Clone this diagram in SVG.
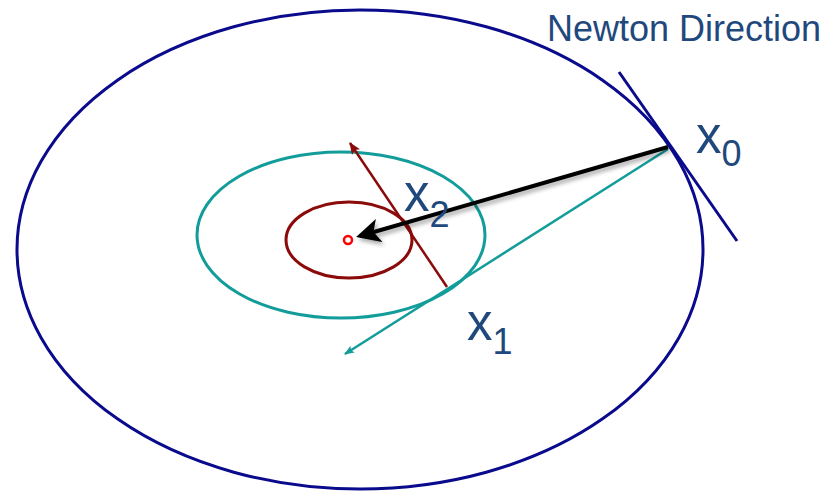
<svg xmlns="http://www.w3.org/2000/svg" width="840" height="492" viewBox="0 0 840 492">
<style>
.lbl{font-family:"Liberation Sans",Arial,sans-serif;fill:#1f497d}
</style>
<defs>
<marker id="ahBlack" markerWidth="6" markerHeight="6" refX="5" refY="3" orient="auto" markerUnits="strokeWidth">
<path d="M0,0 L6,3 L0,6 L1.5,3 Z" fill="#000"/>
</marker>
<marker id="ahTeal" markerWidth="10" markerHeight="8" refX="9" refY="4" orient="auto" markerUnits="userSpaceOnUse">
<path d="M0,0 L10,4 L0,8 L2,4 Z" fill="#129c9a"/>
</marker>
<marker id="ahRed" markerWidth="12" markerHeight="10" refX="11" refY="5" orient="auto" markerUnits="userSpaceOnUse">
<path d="M0,0 L12,5 L0,10 L2.5,5 Z" fill="#8b0a0a"/>
</marker>
<filter id="sh" x="-10%" y="-50%" width="120%" height="200%">
<feDropShadow dx="2" dy="3" stdDeviation="2" flood-color="#000" flood-opacity="0.35"/>
</filter>
</defs>
<g id="outer-contour"><ellipse cx="360" cy="249.5" rx="343" ry="239.5" fill="none" stroke="#0a0a8c" stroke-width="3"/></g>
<g id="mid-contour"><ellipse cx="341" cy="235" rx="144" ry="83" fill="none" stroke="#129c9a" stroke-width="3"/></g>
<g id="inner-contour"><ellipse cx="349" cy="240" rx="63" ry="38" fill="none" stroke="#8b0a0a" stroke-width="3"/></g>
<g id="minimum"><circle cx="348" cy="240" r="4" fill="#fff" stroke="#ff0000" stroke-width="2.5"/></g>
<g id="connectors">
<line x1="619" y1="72" x2="737" y2="241" stroke="#0a0a8c" stroke-width="3"/>
<line x1="668" y1="149" x2="345" y2="354" stroke="#129c9a" stroke-width="2.5" marker-end="url(#ahTeal)"/>
<line x1="447" y1="287" x2="350" y2="143" stroke="#8b0a0a" stroke-width="2.5" marker-end="url(#ahRed)"/>
<line x1="668" y1="147" x2="360" y2="236" stroke="#000" stroke-width="4" marker-end="url(#ahBlack)" filter="url(#sh)"/>
</g>
<g id="labels">
<text class="lbl" x="547" y="41" font-size="36">Newton Direction</text>
<text class="lbl" x="696" y="153" font-size="51">x<tspan font-size="36" dy="13">0</tspan></text>
<text class="lbl" x="404" y="211" font-size="51">x<tspan font-size="36" dy="16">2</tspan></text>
<text class="lbl" x="467" y="340" font-size="51">x<tspan font-size="36" dy="14">1</tspan></text>
</g>
</svg>
